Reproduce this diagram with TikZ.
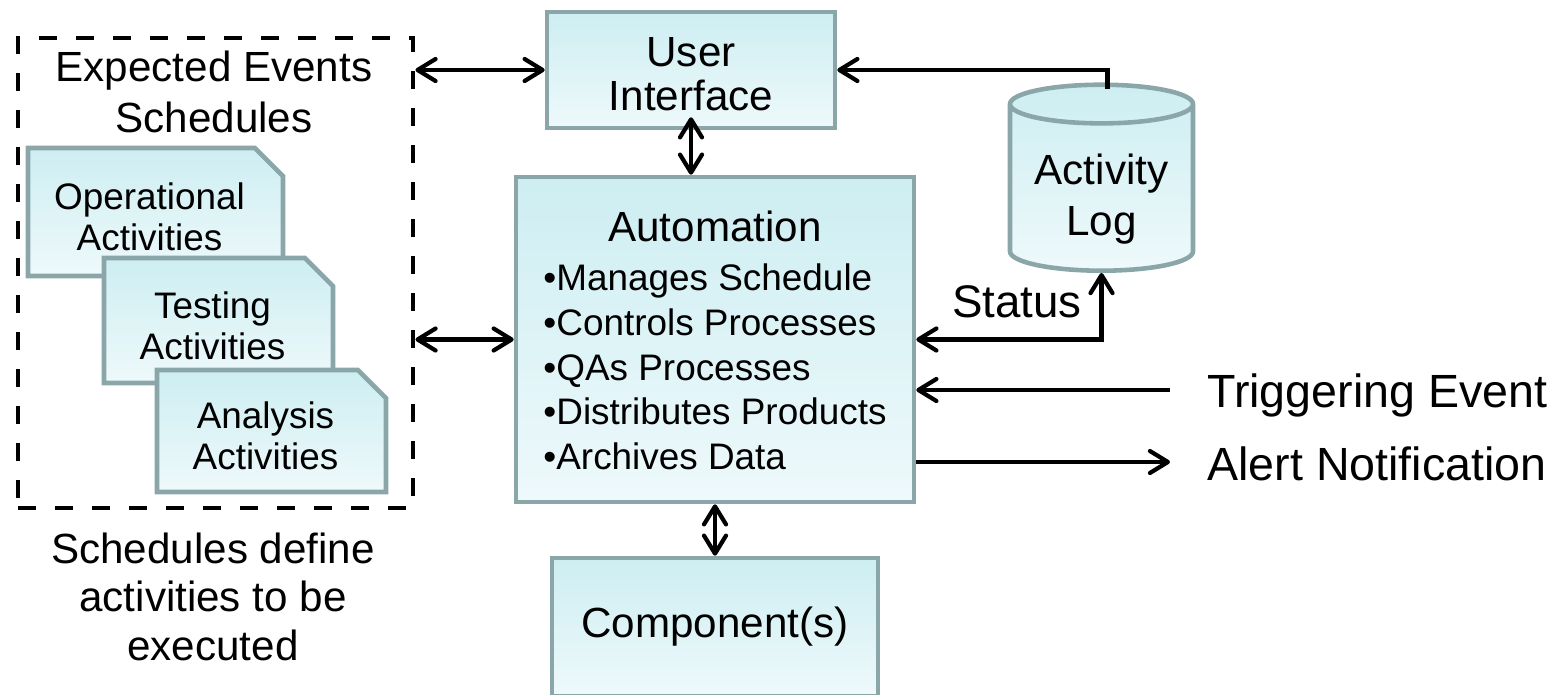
\documentclass[tikz,border=0pt]{standalone}
\usepackage{fontspec}
\setmainfont{Liberation Sans}
\usetikzlibrary{arrows.meta,shapes.geometric,shapes.misc}
\definecolor{boxline}{RGB}{139,166,169}
\definecolor{boxtop}{RGB}{205,238,242}
\definecolor{boxbot}{RGB}{238,249,251}

\begin{document}
\begin{tikzpicture}
        \tikzstyle{every node}=[inner sep=0pt, text=black, font=\fontsize{24}{25}\selectfont]
        \tikzstyle{block}=[rectangle, draw=boxline, line width=2.6pt, top color=boxtop, bottom color=boxbot]
        \tikzstyle{doc}=[block, chamfered rectangle, chamfered rectangle corners=north east, chamfered rectangle xsep=0.44cm, font=\fontsize{21}{23.4}\selectfont]
        \tikzstyle{dashbox}=[rectangle, draw=black, line width=2.8pt, dash pattern=on 0.36cm off 0.38cm]
        \tikzstyle{conn}=[black, line width=2.4pt, >={Straight Barb[length=0.36cm,width=0.44cm,round]}]

        \useasboundingbox (0,0) rectangle (31.36,13.88);

        \node[dashbox, minimum width=7.9cm, minimum height=9.4cm] (sched) at (4.31,8.42) {};
        \node[font=\fontsize{24}{28.5}\selectfont] (head) at (4.28,11.94) {\begin{tabular}{c} Expected Events \\ Schedules \end{tabular}};

        \node[doc, minimum width=5.1cm,  minimum height=2.56cm] (ops)  at (3.11,9.64) {\begin{tabular}{@{}c@{\hspace{0.24cm}}} \noalign{\vspace{0.4cm}} Operational \\ Activities \end{tabular}};
        \node[doc, minimum width=4.58cm, minimum height=2.5cm]  (test) at (4.37,7.47) {\begin{tabular}{@{}c@{\hspace{0.24cm}}} \noalign{\vspace{0.4cm}} Testing     \\ Activities \end{tabular}};
        \node[doc, minimum width=4.58cm, minimum height=2.44cm] (ana)  at (5.43,5.26) {\begin{tabular}{@{}c@{\hspace{0.24cm}}} \noalign{\vspace{0.4cm}} Analysis    \\ Activities \end{tabular}};

        \node[font=\fontsize{24}{27.6}\selectfont] (note) at (4.26,1.84) {\begin{tabular}{c} Schedules define \\ activities to be \\ executed \end{tabular}};

        \node[block, minimum width=5.76cm, minimum height=2.32cm] (ui) at (13.82,12.48) {\begin{tabular}{c} \noalign{\vspace{0.4cm}} User \\ Interface \end{tabular}};
        \node[block, minimum width=7.96cm, minimum height=6.5cm, font=\fontsize{21}{25.6}\selectfont] (auto) at (14.30,7.09)
            {\begin{tabular}{@{}l@{}} \noalign{\vspace{0.28cm}}
                \multicolumn{1}{c}{\fontsize{24}{25}\selectfont Automation} \\[2.3pt]
                \textbullet Manages Schedule \\
                \textbullet Controls Processes \\
                \textbullet QAs Processes \\
                \textbullet Distributes Products \\
                \textbullet Archives Data
            \end{tabular}};
        \node[block, minimum width=6.52cm, minimum height=2.76cm] (comp) at (14.30,1.34) {Component(s)};
        \node[block, cylinder, shape border rotate=90, aspect=0.25, minimum width=3.66cm, minimum height=3.72cm, anchor=south, font=\fontsize{24}{28.5}\selectfont] (log) at (22.03,8.42) {\begin{tabular}{c} \noalign{\vspace{0.46cm}} Activity \\ Log \end{tabular}};

        \node[font=\fontsize{26}{28}\selectfont] (status) at (20.34,7.84) {Status};
        \node[anchor=base west, font=\fontsize{26.5}{28}\selectfont] (trig)  at (24.14,5.74) {Triggering Event};
        \node[anchor=base west, font=\fontsize{26.5}{28}\selectfont] (alert) at (24.14,4.28) {Alert Notification};
        \coordinate (trigin)   at (23.4,6.08);
        \coordinate (alertout) at (23.4,4.64);

        \draw[conn, <->] (sched.east |- ui.west) -- (ui.west);
        \draw[conn, <->] (sched.east |- auto.west) -- (auto.west);
        \draw[conn, <->] ([yshift=0.26cm]ui.south) -- (ui.south |- auto.north);
        \draw[conn, <->] (auto.south) -- (comp.north);
        \draw[conn, ->] ([xshift=0.12cm,yshift=-0.14cm]log.north) |- (ui.east);
        \draw[conn, <->] (auto.east) -| (log.south);
        \draw[conn, ->] (trigin) -- (trigin -| auto.east);
        \draw[conn, ->] (alertout -| auto.east) -- (alertout);
\end{tikzpicture}
\end{document}
